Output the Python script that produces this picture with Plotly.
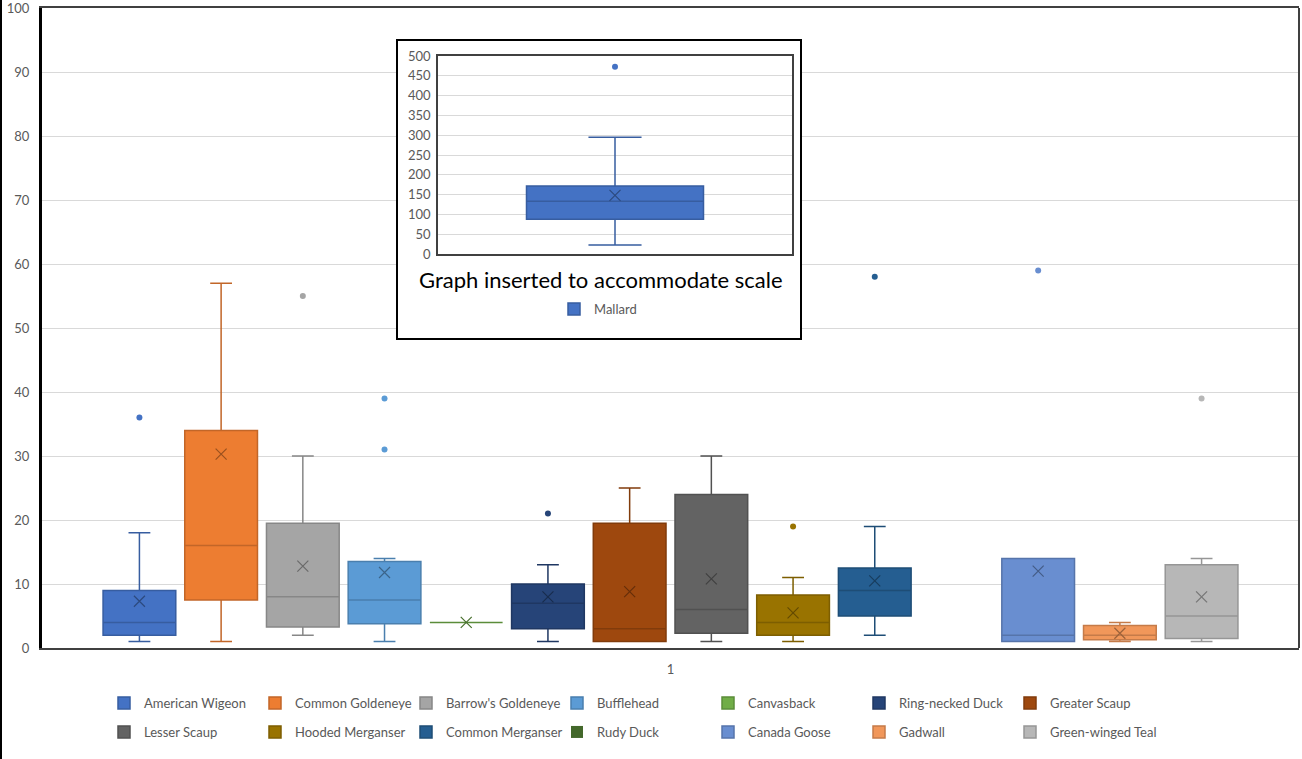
import plotly.graph_objects as go

# ---------------- data ----------------
CATEGORY = "1"
species = ["American Wigeon", "Common Goldeneye", "Barrow's Goldeneye", "Bufflehead", "Canvasback",
           "Ring-necked Duck", "Greater Scaup", "Lesser Scaup", "Hooded Merganser", "Common Merganser",
           "Rudy Duck", "Canada Goose", "Gadwall", "Green-winged Teal"]
colors = ["#4472C4", "#ED7D31", "#A5A5A5", "#5B9BD5", "#70AD47",
          "#264478", "#9E480E", "#636363", "#997300", "#255E91",
          "#43682B", "#698ED0", "#F1975A", "#B7B7B7"]
lower_whisker = [1, 1, 2, 1, 4, 1, 1, 1, 1, 2, None, 1, 1, 1]
q1 = [2, 7.5, 3.3, 3.8, 4, 3, 1, 2.3, 2, 5, None, 1, 1.3, 1.5]
median = [4, 16, 8, 7.5, 4, 7, 3, 6, 4, 9, None, 2, 2, 5]
q3 = [9, 34, 19.5, 13.5, 4, 10, 19.5, 24, 8.3, 12.5, None, 14, 3.5, 13]
upper_whisker = [18, 57, 30, 14, 4, 13, 25, 30, 11, 19, None, 14, 4, 14]
means = [7.3, 30.3, 12.8, 11.8, 4, 8, 8.8, 10.8, 5.5, 10.5, None, 12, 2.3, 8]
outliers = [[36], [], [55], [31, 39], [], [21], [], [], [19], [58], [], [59], [], [39]]
legend_row = [1, 1, 1, 1, 1, 1, 1, 2, 2, 2, 2, 2, 2, 2]

mallard_name = "Mallard"
mallard_color = "#4472C4"
mallard_lower_whisker = [23]
mallard_q1 = [88]
mallard_median = [133]
mallard_q3 = [172]
mallard_upper_whisker = [295]
mallard_mean = [148]
mallard_outliers = [[473]]

y_ticks = list(range(0, 101, 10))
inset_ticks = list(range(0, 501, 50))
inset_title = "Graph inserted to accommodate scale"

# ---------------- helpers (styling only) ----------------
def darken(hex_color, f=0.2):
    h = hex_color.lstrip("#")
    r, g, b = (int(h[i:i + 2], 16) for i in (0, 2, 4))
    return "#%02X%02X%02X" % (int(r * (1 - f)), int(g * (1 - f)), int(b * (1 - f)))

W, H = 1302, 759
L, R, T, B = 42, 3, 8, 111
PW, PH = W - L - R, H - T - B

def px_x(px):  # pixel -> paper x
    return (px - L) / PW

def px_y(py):  # pixel -> paper y
    return (H - B - py) / PH

def cx(px):  # pixel -> container x
    return px / W

def cy(py):  # pixel -> container y
    return (H - py) / H

FONT = "Lato, 'Liberation Sans', Arial, sans-serif"
TXT = "#595959"

fig = go.Figure()

for i, name in enumerate(species):
    c = colors[i]
    dk = darken(c, 0.18)
    leg = "legend" if legend_row[i] == 1 else "legend3"
    has_data = q1[i] is not None
    kw = {}
    if outliers[i]:
        kw["y"] = [outliers[i]]
        kw["boxpoints"] = "outliers"
    else:
        kw["boxpoints"] = False
    fig.add_trace(go.Box(
        name=name, x=[CATEGORY],
        q1=[q1[i]], median=[median[i]], q3=[q3[i]],
        lowerfence=[lower_whisker[i]], upperfence=[upper_whisker[i]],
        orientation="v",
        fillcolor=c, line=dict(color=dk, width=1.5 if has_data else 0), whiskerwidth=0.3,
        marker=dict(color=c, size=6, line=dict(width=0)),
        offsetgroup="g%d" % i, legend=leg, showlegend=True,
        xaxis="x", yaxis="y", **kw
    ))

for i, name in enumerate(species):
    if means[i] is None:
        continue
    dk = darken(colors[i], 0.35)
    fig.add_trace(go.Scatter(
        x=[CATEGORY], y=[means[i]], mode="markers",
        marker=dict(symbol="x-thin-open", size=11, color=dk, line=dict(color=dk, width=1.2)),
        offsetgroup="g%d" % i, showlegend=False, hoverinfo="skip",
        xaxis="x", yaxis="y",
    ))

# inset (Mallard)
fig.add_trace(go.Box(
    name=mallard_name, x=[CATEGORY], y=mallard_outliers,
    q1=mallard_q1, median=mallard_median, q3=mallard_q3,
    lowerfence=mallard_lower_whisker, upperfence=mallard_upper_whisker,
    orientation="v", boxpoints="outliers", width=0.5,
    fillcolor=mallard_color, line=dict(color=darken(mallard_color, 0.18), width=1.5), whiskerwidth=0.3,
    marker=dict(color=mallard_color, size=6, line=dict(width=0)),
    legend="legend2", xaxis="x2", yaxis="y2",
))
fig.add_trace(go.Scatter(
    x=[CATEGORY], y=mallard_mean, mode="markers",
    marker=dict(symbol="x-thin-open", size=11, color=darken(mallard_color, 0.35),
                line=dict(color=darken(mallard_color, 0.35), width=1.2)),
    showlegend=False, hoverinfo="skip", xaxis="x2", yaxis="y2",
))

inset_x0, inset_x1 = px_x(438), px_x(792)
inset_y0, inset_y1 = px_y(254), px_y(56)

legend_common = dict(orientation="h", xanchor="left", yanchor="middle",
                     xref="container", yref="container",
                     bgcolor="rgba(0,0,0,0)", font=dict(family=FONT, size=13, color=TXT),
                     entrywidth=106, entrywidthmode="pixels", itemclick=False)

fig.update_layout(
    width=W, height=H,
    margin=dict(l=L, r=R, t=T, b=B, autoexpand=False),
    paper_bgcolor="white", plot_bgcolor="white",
    font=dict(family=FONT, size=13, color=TXT),
    boxmode="group", boxgap=0.09, boxgroupgap=0.11,
    scattermode="group", scattergap=0.09,
    xaxis=dict(domain=[0, 1], type="category", range=[-0.5, 0.5], showline=True, linecolor="#404040",
               linewidth=2, mirror=True, showgrid=False, ticks="", zeroline=False, automargin=False,
               ticklabelstandoff=8, tickfont=dict(family=FONT, size=13, color=TXT)),
    yaxis=dict(domain=[0, 1], range=[0, 100], tickvals=y_ticks, showgrid=True, gridcolor="#D9D9D9",
               gridwidth=1, showline=True, linecolor="black", linewidth=3, zeroline=False, ticks="",
               automargin=False, ticklabelstandoff=7, ticklabeloverflow="allow",
               tickfont=dict(family=FONT, size=13, color=TXT)),
    xaxis2=dict(domain=[inset_x0, inset_x1], anchor="y2", type="category", range=[-0.5, 0.5],
                showticklabels=False, showline=True, mirror=True, linecolor="#404040", linewidth=1.5,
                showgrid=False, zeroline=False, ticks="", automargin=False),
    yaxis2=dict(domain=[inset_y0, inset_y1], anchor="x2", range=[0, 500], tickvals=inset_ticks,
                showgrid=True, gridcolor="#D9D9D9", showline=True, mirror=True, linecolor="#404040",
                linewidth=1.5, zeroline=False, ticks="", ticklabelstandoff=3, automargin=False,
                ticklabeloverflow="allow", tickfont=dict(family=FONT, size=13, color=TXT)),
    legend=dict(legend_common, x=cx(104), y=cy(703)),
    legend3=dict(legend_common, x=cx(104), y=cy(732)),
    legend2=dict(legend_common, x=cx(554), y=cy(309), entrywidth=60),
    showlegend=True,
    annotations=[dict(text=inset_title, xref="paper", yref="paper", x=px_x(601), y=px_y(279),
                      xanchor="center", yanchor="middle", showarrow=False,
                      font=dict(family=FONT, size=22, color="black"))],
    shapes=[
        # inset frame (white, covers main grid)
        dict(type="rect", xref="x", yref="y", layer="between",
             x0=-0.5 + px_x(397), x1=-0.5 + px_x(801), y0=px_y(339) * 100, y1=px_y(40) * 100,
             fillcolor="white", line=dict(color="black", width=2)),
        # right border of plot area
        dict(type="line", xref="paper", yref="paper", x0=1, x1=1, y0=0, y1=1,
             line=dict(color="#404040", width=2)),
        # outer left border of picture
        dict(type="line", xref="paper", yref="paper", x0=px_x(1), x1=px_x(1), y0=px_y(H), y1=px_y(0),
             line=dict(color="black", width=2)),
    ],
)

fig.write_html("out.html", post_script="document.body.style.margin='0';",
               config={"displayModeBar": False})
